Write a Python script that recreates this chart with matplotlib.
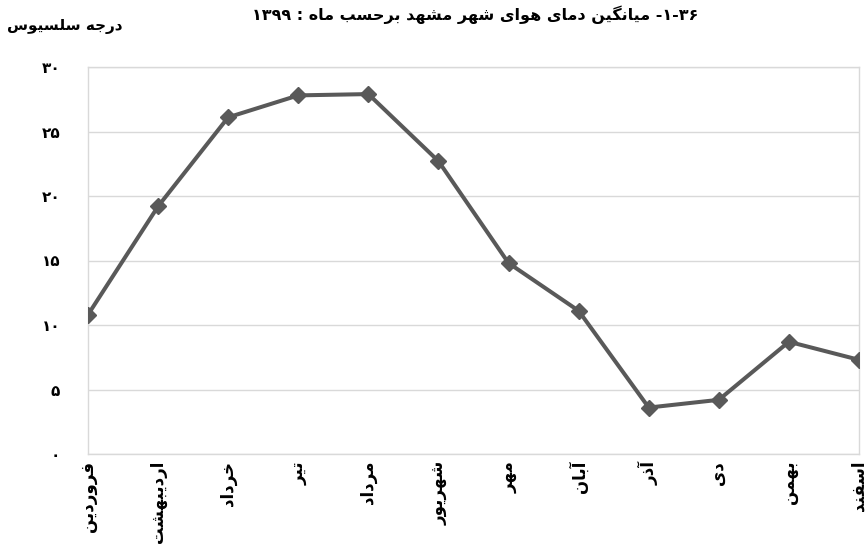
import numpy as np
import matplotlib
matplotlib.use("Agg")
import matplotlib.pyplot as plt

# ماه‌های سال ۱۳۹۹ و میانگین دما (درجه سلسیوس)
months = ["فروردین", "اردیبهشت", "خرداد", "تیر", "مرداد", "شهریور",
          "مهر", "آبان", "آذر", "دی", "بهمن", "اسفند"]
temps = [10.8, 19.2, 26.1, 27.8, 27.9, 22.7, 14.8, 11.1, 3.6, 4.2, 8.7, 7.3]
yticks = [0, 5, 10, 15, 20, 25, 30]
title = "۳۶-۱- میانگین دمای هوای شهر مشهد برحسب ماه : ۱۳۹۹"
ylabel = "درجه سلسیوس"

# presentation forms: isolated, final, initial, medial
FORMS = {
    "ا": (0xFE8D, 0xFE8E), "آ": (0xFE81, 0xFE82),
    "ب": (0xFE8F, 0xFE90, 0xFE91, 0xFE92), "ت": (0xFE95, 0xFE96, 0xFE97, 0xFE98),
    "ج": (0xFE9D, 0xFE9E, 0xFE9F, 0xFEA0), "ح": (0xFEA1, 0xFEA2, 0xFEA3, 0xFEA4),
    "خ": (0xFEA5, 0xFEA6, 0xFEA7, 0xFEA8), "د": (0xFEA9, 0xFEAA),
    "ذ": (0xFEAB, 0xFEAC), "ر": (0xFEAD, 0xFEAE), "ز": (0xFEAF, 0xFEB0),
    "س": (0xFEB1, 0xFEB2, 0xFEB3, 0xFEB4), "ش": (0xFEB5, 0xFEB6, 0xFEB7, 0xFEB8),
    "ف": (0xFED1, 0xFED2, 0xFED3, 0xFED4), "ل": (0xFEDD, 0xFEDE, 0xFEDF, 0xFEE0),
    "م": (0xFEE1, 0xFEE2, 0xFEE3, 0xFEE4), "ن": (0xFEE5, 0xFEE6, 0xFEE7, 0xFEE8),
    "ه": (0xFEE9, 0xFEEA, 0xFEEB, 0xFEEC), "و": (0xFEED, 0xFEEE),
    "ی": (0xFBFC, 0xFBFD, 0xFBFE, 0xFBFF), "گ": (0xFB92, 0xFB93, 0xFB94, 0xFB95),
}
DIGITS = "0123456789۰۱۲۳۴۵۶۷۸۹"


def fa(s):
    # contextual forms, then right-to-left order (digit runs stay left-to-right)
    out = []
    for i, ch in enumerate(s):
        if ch not in FORMS:
            out.append(ch)
            continue
        prev = s[i - 1] if i > 0 else None
        nxt = s[i + 1] if i + 1 < len(s) else None
        jp = prev in FORMS and len(FORMS[prev]) == 4
        jn = len(FORMS[ch]) == 4 and nxt in FORMS
        f = FORMS[ch]
        if jp and jn:
            c = f[3]
        elif jp:
            c = f[1]
        elif jn:
            c = f[2]
        else:
            c = f[0]
        out.append(chr(c))
    runs = []
    for ch in out:
        if ch in DIGITS and runs and runs[-1][0] in DIGITS:
            runs[-1] += ch
        else:
            runs.append(ch)
    return "".join(runs[::-1])


def fa_num(n):
    return str(n).translate(str.maketrans("0123456789", "۰۱۲۳۴۵۶۷۸۹"))


plt.rcParams['font.family'] = ['DejaVu Sans']
plt.rcParams['font.weight'] = 'bold'

fig = plt.figure(figsize=(8.68, 5.45), dpi=100)
ax = fig.add_axes([88 / 868, 1 - 454 / 545, (859 - 88) / 868, (454 - 67) / 545])

x = np.arange(len(months))
ax.plot(x, temps, color="#595959", lw=2.9, marker="D", ms=8.5, zorder=3)

ax.set_xlim(0, len(months) - 1)
ax.set_ylim(0, 30)
ax.set_yticks(yticks)
ax.set_yticklabels([fa_num(v) for v in yticks], fontsize=11, fontweight='bold')
ax.set_xticks(x)
ax.set_xticklabels([fa(m) for m in months], rotation=90, fontsize=12, fontweight='bold')
ax.tick_params(axis='both', length=0)
ax.tick_params(axis='y', pad=20)
ax.tick_params(axis='x', pad=5)

ax.grid(axis='y', color="#d9d9d9", lw=1)
ax.set_axisbelow(True)
for s in ax.spines.values():
    s.set_color("#d9d9d9")
    s.set_linewidth(1)

fig.text(698 / 868, 1 - 15 / 545, fa(title), ha='right', va='center',
         fontsize=11.5, fontweight='bold')
fig.text(65 / 868, 1 - 27 / 545, fa(ylabel), ha='center', va='center',
         fontsize=11, fontweight='bold')

fig.savefig("out.png", dpi=100)
